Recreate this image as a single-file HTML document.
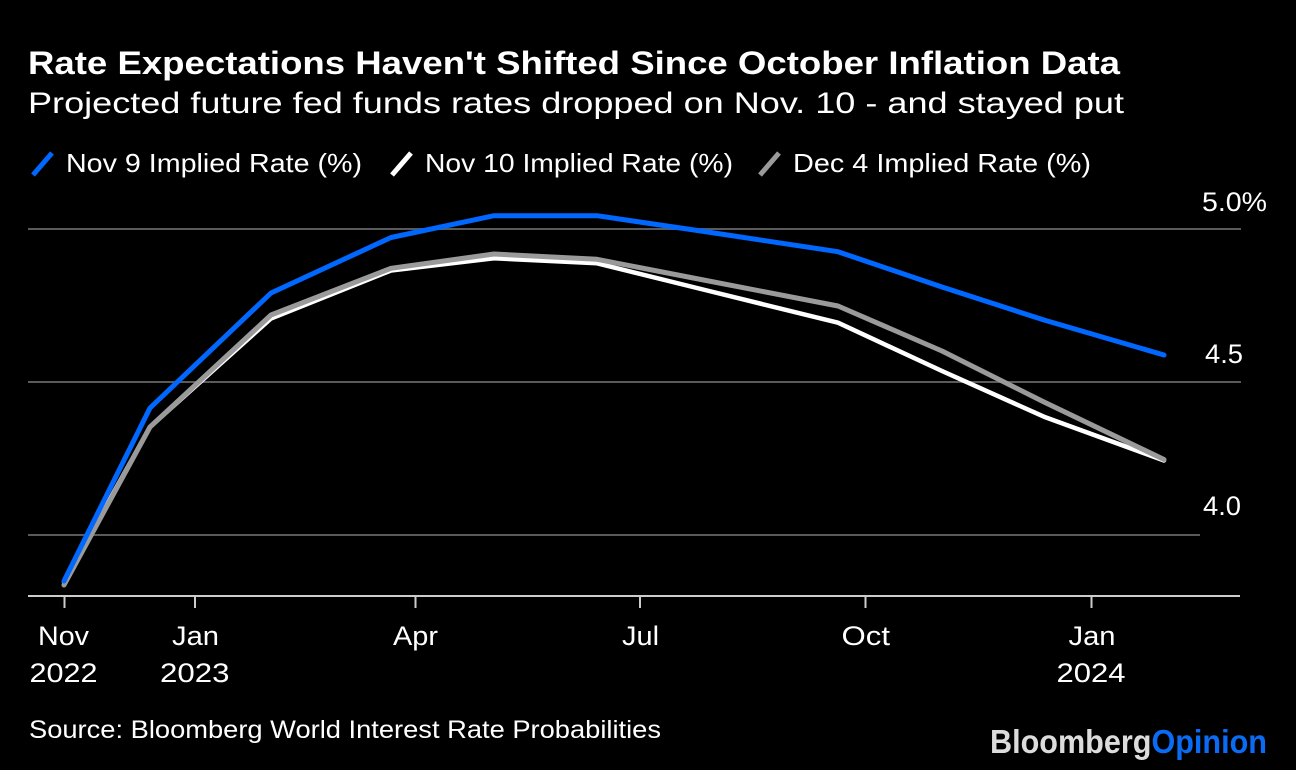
<!DOCTYPE html>
<html>
<head>
<meta charset="utf-8">
<style>
  html, body { margin: 0; padding: 0; background: #000; }
  svg { display: block; }
  text { font-family: "Liberation Sans", "DejaVu Sans", sans-serif; fill: #fff; }
</style>
</head>
<body>
<svg width="1296" height="770" viewBox="0 0 1296 770" xmlns="http://www.w3.org/2000/svg">
  <rect x="0" y="0" width="1296" height="770" fill="#000"/>

  <!-- Title & subtitle -->
  <text x="28" y="74" font-size="32.5" font-weight="bold" textLength="1092" lengthAdjust="spacingAndGlyphs">Rate Expectations Haven't Shifted Since October Inflation Data</text>
  <text x="28" y="113" font-size="29.5" textLength="1096" lengthAdjust="spacingAndGlyphs">Projected future fed funds rates dropped on Nov. 10 - and stayed put</text>

  <!-- Legend -->
  <line x1="33" y1="175" x2="52" y2="153" stroke="#0068ff" stroke-width="5"/>
  <text x="66" y="172" font-size="26" textLength="296" lengthAdjust="spacingAndGlyphs">Nov 9 Implied Rate (%)</text>
  <line x1="392" y1="175" x2="411" y2="153" stroke="#ffffff" stroke-width="5"/>
  <text x="425" y="172" font-size="26" textLength="308" lengthAdjust="spacingAndGlyphs">Nov 10 Implied Rate (%)</text>
  <line x1="760" y1="175" x2="779" y2="153" stroke="#9a9a9a" stroke-width="5"/>
  <text x="793" y="172" font-size="26" textLength="298" lengthAdjust="spacingAndGlyphs">Dec 4 Implied Rate (%)</text>

  <!-- Gridlines -->
  <line x1="28" y1="229" x2="1241" y2="229" stroke="#5a5a5a" stroke-width="2"/>
  <line x1="28" y1="382" x2="1241" y2="382" stroke="#5a5a5a" stroke-width="2"/>
  <line x1="28" y1="535" x2="1200" y2="535" stroke="#5a5a5a" stroke-width="2"/>

  <!-- Y labels -->
  <text x="1202" y="211" font-size="27" textLength="65" lengthAdjust="spacingAndGlyphs">5.0%</text>
  <text x="1205" y="363" font-size="27" textLength="38" lengthAdjust="spacingAndGlyphs">4.5</text>
  <text x="1203" y="515" font-size="27" textLength="38" lengthAdjust="spacingAndGlyphs">4.0</text>

  <!-- X axis -->
  <line x1="28" y1="596" x2="1240" y2="596" stroke="#cccccc" stroke-width="2"/>
  <g stroke="#cccccc" stroke-width="2">
    <line x1="64.5" y1="596" x2="64.5" y2="608"/>
    <line x1="195" y1="596" x2="195" y2="608"/>
    <line x1="415.5" y1="596" x2="415.5" y2="608"/>
    <line x1="640" y1="596" x2="640" y2="608"/>
    <line x1="865.5" y1="596" x2="865.5" y2="608"/>
    <line x1="1091.5" y1="596" x2="1091.5" y2="608"/>
  </g>

  <!-- X labels -->
  <g font-size="27">
    <text x="38" y="645" textLength="51" lengthAdjust="spacingAndGlyphs">Nov</text>
    <text x="29.5" y="682" textLength="68" lengthAdjust="spacingAndGlyphs">2022</text>
    <text x="172" y="645" textLength="47" lengthAdjust="spacingAndGlyphs">Jan</text>
    <text x="160" y="682" textLength="69.5" lengthAdjust="spacingAndGlyphs">2023</text>
    <text x="393" y="645" textLength="45" lengthAdjust="spacingAndGlyphs">Apr</text>
    <text x="622" y="645" textLength="37" lengthAdjust="spacingAndGlyphs">Jul</text>
    <text x="841.5" y="645" textLength="48.5" lengthAdjust="spacingAndGlyphs">Oct</text>
    <text x="1068.5" y="645" textLength="47" lengthAdjust="spacingAndGlyphs">Jan</text>
    <text x="1056.5" y="682" textLength="69" lengthAdjust="spacingAndGlyphs">2024</text>
  </g>

  <!-- Series -->
  <polyline fill="none" stroke="#ffffff" stroke-width="4.5" stroke-linejoin="round" stroke-linecap="round"
    points="64,582 150,427 271,318.5 391,270.5 494,258.3 597,263.3 701,289 838,322.7 942,371 1044,416.7 1164,460.5"/>
  <polyline fill="none" stroke="#9a9a9a" stroke-width="5" stroke-linejoin="round" stroke-linecap="round"
    points="64,585 150,427 271,315 391,268.3 494,254 597,259.3 701,279.5 838,306 942,351 1044,402 1164,459.5"/>
  <polyline fill="none" stroke="#0068ff" stroke-width="5" stroke-linejoin="round" stroke-linecap="round"
    points="64,581 150,408 271,293 391,237.5 494,215.7 597,215.7 701,231 838,251.7 942,287 1044,320 1164,355"/>

  <!-- Footer -->
  <text x="29" y="738" font-size="25" textLength="632" lengthAdjust="spacingAndGlyphs">Source: Bloomberg World Interest Rate Probabilities</text>
  <text x="990" y="753" font-size="33" font-weight="bold" textLength="277" lengthAdjust="spacingAndGlyphs"><tspan fill="#dcdcdc">Bloomberg</tspan><tspan fill="#0a6cf5">Opinion</tspan></text>
</svg>
</body>
</html>
